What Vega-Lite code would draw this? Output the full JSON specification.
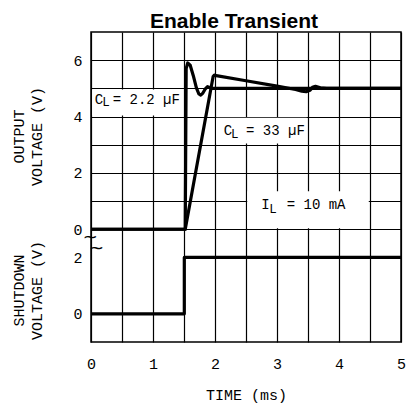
{
  "$schema": "https://vega.github.io/schema/vega-lite/v6.json",
  "width": 310,
  "height": 310,
  "autosize": {"type": "none"},
  "padding": {"left": 91, "top": 32, "right": 6, "bottom": 71},
  "title": {"text": "Enable Transient", "font": "Liberation Sans", "fontSize": 21, "fontWeight": "bold", "color": "black", "frame": "group", "anchor": "middle", "dx": -12, "dy": 22, "baseline": "alphabetic", "offset": 5},
  "config": {
    "view": {"stroke": "black", "strokeWidth": 1.5},
    "font": "Liberation Mono",
    "axis": {"gridColor": "black", "gridOpacity": 1, "gridWidth": 1.2, "domain": false, "ticks": false, "labelFont": "Liberation Mono", "labelFontSize": 15, "labelColor": "black", "titleFont": "Liberation Mono", "titleFontSize": 15, "titleFontWeight": "normal", "titleColor": "black", "labelOverlap": false, "labelFlush": false}
  },
  "datasets": {
    "output": [
      {"series": "2.2", "i": 0, "t": 0, "v": 0},
      {"series": "2.2", "i": 1, "t": 1.52, "v": 0},
      {"series": "2.2", "i": 2, "t": 1.535, "v": 5.7},
      {"series": "2.2", "i": 3, "t": 1.56, "v": 5.9},
      {"series": "2.2", "i": 4, "t": 1.6, "v": 5.82},
      {"series": "2.2", "i": 5, "t": 1.65, "v": 5.45},
      {"series": "2.2", "i": 6, "t": 1.7, "v": 5.02},
      {"series": "2.2", "i": 7, "t": 1.74, "v": 4.8},
      {"series": "2.2", "i": 8, "t": 1.77, "v": 4.76},
      {"series": "2.2", "i": 9, "t": 1.8, "v": 4.82},
      {"series": "2.2", "i": 10, "t": 1.84, "v": 4.97},
      {"series": "2.2", "i": 11, "t": 1.88, "v": 5.06},
      {"series": "2.2", "i": 12, "t": 1.92, "v": 5.02},
      {"series": "2.2", "i": 13, "t": 1.96, "v": 5.0},
      {"series": "2.2", "i": 14, "t": 5, "v": 5.0},
      {"series": "33", "i": 0, "t": 0, "v": 0},
      {"series": "33", "i": 1, "t": 1.52, "v": 0},
      {"series": "33", "i": 2, "t": 1.97, "v": 5.42},
      {"series": "33", "i": 3, "t": 1.99, "v": 5.47},
      {"series": "33", "i": 4, "t": 2.02, "v": 5.45},
      {"series": "33", "i": 5, "t": 2.5, "v": 5.27},
      {"series": "33", "i": 6, "t": 3.0, "v": 5.08},
      {"series": "33", "i": 7, "t": 3.3, "v": 4.96},
      {"series": "33", "i": 8, "t": 3.4, "v": 4.9},
      {"series": "33", "i": 9, "t": 3.47, "v": 4.88},
      {"series": "33", "i": 10, "t": 3.53, "v": 4.93},
      {"series": "33", "i": 11, "t": 3.58, "v": 5.05},
      {"series": "33", "i": 12, "t": 3.62, "v": 5.07},
      {"series": "33", "i": 13, "t": 3.7, "v": 5.02},
      {"series": "33", "i": 14, "t": 3.8, "v": 5.0},
      {"series": "33", "i": 15, "t": 5, "v": 5.0}
    ],
    "shutdown": [
      {"i": 0, "t": 0, "v": 0},
      {"i": 1, "t": 1.505, "v": 0},
      {"i": 2, "t": 1.505, "v": 2},
      {"i": 3, "t": 5, "v": 2}
    ],
    "boxes": [
      {"t": 0.02, "t2": 1.48, "v": 4.04, "v2": 4.96},
      {"t": 2.02, "t2": 3.48, "v": 3.04, "v2": 3.96},
      {"t": 2.52, "t2": 4.48, "v": 0.04, "v2": 1.35}
    ],
    "letters": [
      {"t": 0.129, "v": 4.58, "text": "C"},
      {"t": 2.21, "v": 3.48, "text": "C"},
      {"t": 2.815, "v": 0.85, "text": "I"}
    ],
    "subs": [
      {"t": 0.242, "v": 4.5, "text": "L"},
      {"t": 2.32, "v": 3.38, "text": "L"},
      {"t": 2.935, "v": 0.71, "text": "L"}
    ],
    "notes": [
      {"t": 0.35, "v": 4.58, "text": "= 2.2 µF"},
      {"t": 2.5, "v": 3.48, "text": "= 33 µF"},
      {"t": 3.156, "v": 0.85, "text": "=  10 mA"}
    ],
    "breaks": [
      {"t": -0.01, "v": 2.7, "text": "~"},
      {"t": 0.09, "v": 2.3, "text": "~"}
    ]
  },
  "encoding": {
    "x": {"field": "t", "type": "quantitative", "scale": {"domain": [0, 5], "nice": false, "zero": false},
      "axis": {"values": [0, 0.5, 1, 1.5, 2, 2.5, 3, 3.5, 4, 4.5, 5], "labelExpr": "datum.value % 1 == 0 ? format(datum.value, 'd') : ''", "labelPadding": 14, "title": "TIME (ms)", "titleY": 45, "titleBaseline": "top"}}
  },
  "layer": [
    {
      "encoding": {
        "y": {"field": "v", "type": "quantitative", "scale": {"domain": [-4, 7], "nice": false, "zero": false},
          "axis": {"orient": "left", "values": [0, 1, 2, 3, 4, 5, 6], "labelExpr": "datum.value % 2 == 0 ? format(datum.value, 'd') : ''", "labelPadding": 9, "title": ["OUTPUT", "VOLTAGE (V)"], "titleAngle": 270, "titleAlign": "center", "titleBaseline": "alphabetic", "titleX": -68, "titleY": 104, "titleLineHeight": 18.7}}
      },
      "layer": [
        {
          "data": {"name": "boxes"},
          "mark": {"type": "rect", "fill": "white", "stroke": null},
          "encoding": {"x2": {"field": "t2"}, "y2": {"field": "v2"}}
        },
        {
          "data": {"name": "output"},
          "mark": {"type": "line", "color": "black", "strokeWidth": 3.2, "strokeJoin": "round", "strokeCap": "butt"},
          "encoding": {"detail": {"field": "series"}, "order": {"field": "i"}}
        },
        {
          "data": {"name": "letters"},
          "mark": {"type": "text", "font": "Liberation Mono", "fontSize": 14, "align": "center", "baseline": "middle", "color": "black"},
          "encoding": {"text": {"field": "text"}}
        },
        {
          "data": {"name": "subs"},
          "mark": {"type": "text", "font": "Liberation Mono", "fontSize": 12.5, "align": "center", "baseline": "middle", "color": "black"},
          "encoding": {"text": {"field": "text"}}
        },
        {
          "data": {"name": "notes"},
          "mark": {"type": "text", "font": "Liberation Mono", "fontSize": 14, "align": "left", "baseline": "middle", "color": "black"},
          "encoding": {"text": {"field": "text"}}
        }
      ]
    },
    {
      "encoding": {
        "y": {"field": "v", "type": "quantitative", "scale": {"domain": [-1, 10], "nice": false, "zero": false},
          "axis": {"orient": "left", "values": [-1, 0, 1, 2, 3], "labelExpr": "datum.value == 0 || datum.value == 2 ? format(datum.value, 'd') : ''", "labelPadding": 9, "title": ["SHUTDOWN", "VOLTAGE (V)"], "titleAngle": 270, "titleAlign": "center", "titleBaseline": "alphabetic", "titleX": -68, "titleY": 258, "titleLineHeight": 18.7}}
      },
      "layer": [
        {
          "data": {"name": "shutdown"},
          "mark": {"type": "line", "color": "black", "strokeWidth": 3.2, "strokeJoin": "round"},
          "encoding": {"order": {"field": "i"}}
        },
        {
          "data": {"name": "breaks"},
          "mark": {"type": "text", "font": "DejaVu Sans", "fontSize": 18, "align": "center", "baseline": "middle", "color": "black"},
          "encoding": {"text": {"field": "text"}}
        }
      ]
    }
  ],
  "resolve": {"scale": {"y": "independent"}, "axis": {"y": "independent"}}
}
